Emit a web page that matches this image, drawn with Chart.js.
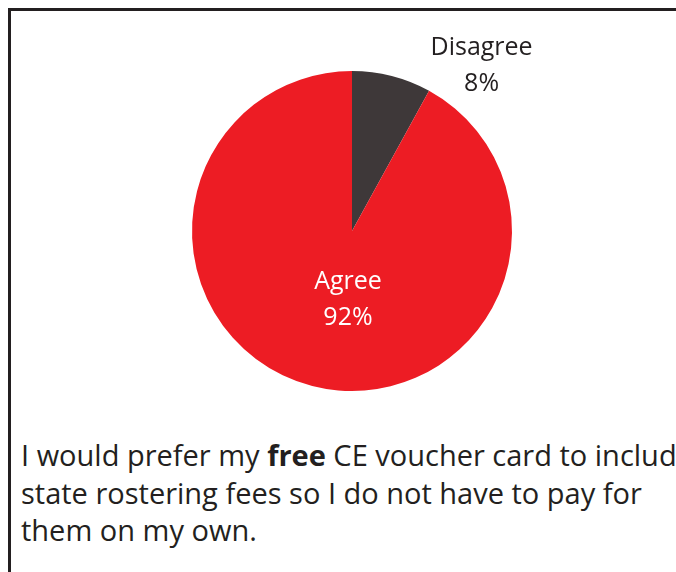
<!DOCTYPE html>
<html>
<head>
<meta charset="utf-8">
<script src="https://cdn.jsdelivr.net/npm/chart.js@4"></script>
<style>
  html, body { margin: 0; padding: 0; background: #fff; overflow: hidden; }
  body { width: 676px; height: 572px; position: relative; }
  .frame {
    position: absolute; left: 8px; top: 8px; width: 700px; height: 600px;
    border-left: 3px solid #231f20; border-top: 3px solid #231f20;
  }
  #pie { position: absolute; left: 0; top: 0; }
  .caption {
    position: absolute; left: 21px; top: 436px;
    font-family: "Open Sans", sans-serif; font-size: 29px; line-height: 37.5px;
    color: #231f20; white-space: nowrap;
  }
</style>
</head>
<body>
<div class="frame"></div>
<div style="position:absolute;left:0;top:0;width:676px;height:420px;">
  <canvas id="pie" width="676" height="420"></canvas>
</div>
<div class="caption">I would prefer my <b>free</b> CE voucher card to include<br>state rostering fees so I do not have to pay for<br>them on my own.</div>
<script>
const labels = ['Disagree', 'Agree'];
const values = [8, 92];
const colors = ['#3e3839', '#ed1c24'];

// draw the category name and percent next to each slice
const sliceLabels = {
  id: 'sliceLabels',
  afterDatasetsDraw(chart) {
    const ctx = chart.ctx;
    const arcs = chart.getDatasetMeta(0).data;
    ctx.save();
    ctx.font = '25px "Open Sans", sans-serif';
    ctx.textAlign = 'center';
    ctx.textBaseline = 'middle';
    arcs.forEach((arc, i) => {
      const { x, y, outerRadius } = arc.getProps(['x', 'y', 'outerRadius'], true);
      let lx, ly;
      if (i === 0) {
        lx = x + outerRadius * 0.81;
        ly = y - outerRadius * 1.143;
        ctx.fillStyle = '#231f20';
      } else {
        lx = x - outerRadius * 0.025;
        ly = y + outerRadius * 0.315;
        ctx.fillStyle = '#ffffff';
      }
      ctx.fillText(labels[i], lx, ly);
      ctx.fillText(values[i] + '%', lx, ly + 36);
    });
    ctx.restore();
  }
};

new Chart(document.getElementById('pie'), {
  type: 'pie',
  data: {
    labels: labels,
    datasets: [{
      data: values,
      backgroundColor: colors,
      borderWidth: 0
    }]
  },
  options: {
    responsive: false,
    animation: false,
    layout: { padding: { left: 192, right: 164, top: 71, bottom: 29 } },
    plugins: { legend: { display: false }, tooltip: { enabled: false } }
  },
  plugins: [sliceLabels]
});
</script>
</body>
</html>
